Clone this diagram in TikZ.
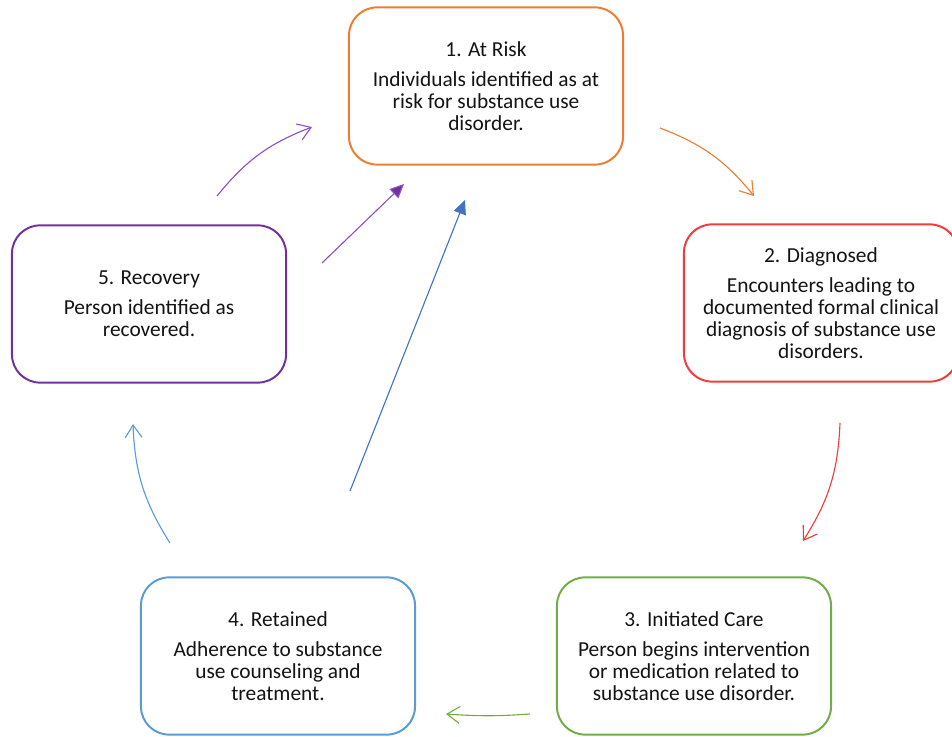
\documentclass[tikz,border=0pt]{standalone}
\usepackage{fontspec}
\setmainfont{Carlito}
\usetikzlibrary{arrows.meta}
\definecolor{riskcol}{HTML}{ED7D31}
\definecolor{diagcol}{HTML}{F03C3C}
\definecolor{carecol}{HTML}{70AD47}
\definecolor{keptcol}{HTML}{5B9BD5}
\definecolor{recovcol}{HTML}{7030A0}
\definecolor{recovline}{HTML}{8A52C4}
\definecolor{backblue}{HTML}{4472C4}
\begin{document}
\begin{tikzpicture}
[x=0.025cm,y=0.025cm,
stage/.style={draw=#1,line width=1.4pt,rounded corners=20pt,fill=white,
 minimum width=6.85cm,minimum height=3.93cm,align=center,
 font=\fontsize{15.2}{15.6}\selectfont,text=black!92},
flow/.style={draw=#1,line width=0.8pt,bend left=15,
 -{Straight Barb[length=9pt,width=12pt]}},
back/.style={draw=#1,line width=0.8pt,
 -{Triangle[length=10pt,width=9pt,fill=#1]}}]
\useasboundingbox (0,0) rectangle (952,736);
% the five stages
\node [stage=riskcol] (risk) at (486,650) {1. At Risk\\[6pt]
Individuals identified as at\\risk for substance use\\disorder.};
\node [stage=diagcol] (diag) at (821,433) {2. Diagnosed\\[6pt]
Encounters leading to\\documented formal clinical\\diagnosis of substance use\\disorders.};
\node [stage=carecol] (care) at (694,80) {3. Initiated Care\\[6pt]
Person begins intervention\\or medication related to\\substance use disorder.};
\node [stage=keptcol] (kept) at (278,80) {4. Retained\\[6pt]
Adherence to substance\\use counseling and\\treatment.};
\node [stage=recovcol] (recov) at (149,432) {5. Recovery\\[6pt]
Person identified as\\recovered.};
% arrow ends
\coordinate (riskout) at (660,608);
\coordinate (diagin) at (754,540);
\coordinate (diagout) at (840,313);
\coordinate (carein) at (803,195);
\coordinate (careout) at (530,22);
\coordinate (keptin) at (446,22);
\coordinate (keptout) at (170,193);
\coordinate (recovin) at (133,312);
\coordinate (recovout) at (217,540);
\coordinate (riskin) at (312,609);
\coordinate (recovback) at (322,473);
\coordinate (riskback) at (404,552);
\coordinate (keptback) at (350,245);
\coordinate (riskbackb) at (465,536);
% the cycle
\draw [flow=riskcol] (riskout) to (diagin);
\draw [flow=diagcol] (diagout) to (carein);
\draw [flow=carecol,bend left=4] (careout) to (keptin);
\draw [flow=keptcol] (keptout) to (recovin);
\draw [flow=recovline] (recovout) to (riskin);
% back to risk
\draw [back=recovcol,draw=recovline] (recovback) -- (riskback);
\draw [back=backblue] (keptback) -- (riskbackb);
\end{tikzpicture}
\end{document}
